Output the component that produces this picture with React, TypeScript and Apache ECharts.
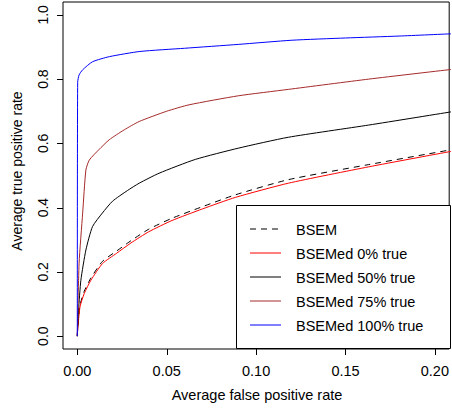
import React, { useEffect, useRef } from "react";
import * as echarts from "echarts";

// x (average false positive rate) and y (average true positive rate) per curve
const bsemX = [0, 0.0002, 0.0015, 0.0039, 0.0076, 0.0141, 0.022, 0.03, 0.04, 0.053, 0.07, 0.0885, 0.118, 0.163, 0.209];
const bsemY = [0, 0.022, 0.096, 0.14, 0.181, 0.233, 0.265, 0.297, 0.333, 0.367, 0.403, 0.44, 0.487, 0.534, 0.58];

const med0X = [0, 0.0002, 0.0015, 0.0039, 0.0076, 0.0141, 0.022, 0.03, 0.04, 0.053, 0.07, 0.0885, 0.118, 0.163, 0.209];
const med0Y = [0, 0.019, 0.091, 0.133, 0.174, 0.226, 0.258, 0.29, 0.325, 0.36, 0.396, 0.432, 0.476, 0.527, 0.575];

const med50X = [0, 0.0007, 0.002, 0.0048, 0.0085, 0.014, 0.0197, 0.028, 0.0346, 0.0457, 0.066, 0.09, 0.118, 0.163, 0.209];
const med50Y = [0, 0.081, 0.174, 0.268, 0.341, 0.383, 0.42, 0.453, 0.476, 0.507, 0.55, 0.585, 0.619, 0.657, 0.698];

const med75X = [0, 0.001, 0.003, 0.0048, 0.0067, 0.012, 0.0178, 0.0262, 0.0346, 0.05, 0.0625, 0.09, 0.118, 0.163, 0.209];
const med75Y = [0, 0.227, 0.383, 0.517, 0.548, 0.58, 0.611, 0.642, 0.668, 0.7, 0.72, 0.748, 0.768, 0.8, 0.83];

const med100X = [0, 0.0002, 0.001, 0.003, 0.0085, 0.018, 0.035, 0.06, 0.09, 0.12, 0.15, 0.18, 0.209];
const med100Y = [0, 0.79, 0.813, 0.829, 0.854, 0.87, 0.886, 0.896, 0.908, 0.921, 0.928, 0.934, 0.941];

const seriesNames = ["BSEM", "BSEMed 0% true", "BSEMed 50% true", "BSEMed 75% true", "BSEMed 100% true"];
const seriesColors = ["#000000", "#FF0000", "#000000", "#A52A2A", "#0000FF"];
const xTicks = [0, 0.05, 0.1, 0.15, 0.2];
const yTicks = [0, 0.2, 0.4, 0.6, 0.8, 1.0];

const X_MIN = -0.008;
const X_MAX = 0.208;
const Y_MIN = -0.04;
const Y_MAX = 1.04;

const FONT = "'Liberation Sans', Arial, Helvetica, sans-serif";
const DASH = [6, 5];

function pairs(xs: number[], ys: number[]) {
  return xs.map((x, i) => [x, ys[i]]);
}

export default function App() {
  const ref = useRef<HTMLDivElement>(null);
  useEffect(() => {
    if (!ref.current) return;
    const chart = echarts.init(ref.current, null, { renderer: "svg" });
    const mk = (i: number, data: number[][]) => ({
      name: seriesNames[i],
      type: "line",
      data,
      symbol: "none",
      showSymbol: false,
      smooth: 0.2,
      clip: true,
      lineStyle: { color: seriesColors[i], width: 1, type: i === 0 ? DASH : "solid" },
      itemStyle: { color: seriesColors[i] },
      emphasis: { disabled: true },
    });

    const legendRows = [229, 253, 277, 301, 325];
    const legendEls: any[] = [];
    seriesNames.forEach((name, i) => {
      legendEls.push({
        type: "line",
        z: 20,
        shape: { x1: 250, y1: legendRows[i], x2: 281, y2: legendRows[i] },
        style: { stroke: seriesColors[i], lineWidth: 1, lineDash: i === 0 ? DASH : null },
      });
      legendEls.push({
        type: "text",
        z: 20,
        x: 296,
        y: legendRows[i] + 1,
        style: {
          text: name,
          fontSize: 14.5,
          fontFamily: FONT,
          fill: "#000",
          align: "left",
          verticalAlign: "middle",
        },
      });
    });

    chart.setOption({
      animation: false,
      grid: {
        left: 63,
        top: 2,
        right: 1,
        bottom: 61,
        show: true,
        borderColor: "#000",
        borderWidth: 1,
        backgroundColor: "transparent",
      },
      xAxis: {
        type: "value",
        min: X_MIN,
        max: X_MAX,
        axisLine: { show: false, onZero: false },
        splitLine: { show: false },
        axisTick: { show: false },
        axisLabel: {
          customValues: xTicks,
          formatter: (v: number) => v.toFixed(2),
          margin: 14,
          fontSize: 14.5,
          fontFamily: FONT,
          color: "#000",
        },
      },
      yAxis: {
        type: "value",
        min: Y_MIN,
        max: Y_MAX,
        axisLine: { show: false, onZero: false },
        splitLine: { show: false },
        axisTick: { show: false },
        axisLabel: {
          customValues: yTicks,
          formatter: (v: number) => v.toFixed(1),
          rotate: 90,
          margin: 13,
          fontSize: 14,
          fontFamily: FONT,
          color: "#000",
        },
      },
      graphic: [
        {
          type: "rect",
          z: 15,
          shape: { x: 236.5, y: 205.5, width: 214, height: 143 },
          style: { fill: "#fff", stroke: "#000", lineWidth: 1 },
        },
        ...legendEls,
        {
          type: "text",
          x: 257,
          y: 395,
          style: {
            text: "Average false positive rate",
            fontSize: 14.5,
            fontFamily: FONT,
            fill: "#000",
            align: "center",
            verticalAlign: "middle",
          },
        },
        {
          type: "text",
          x: 17,
          y: 171,
          rotation: Math.PI / 2,
          style: {
            text: "Average true positive rate",
            fontSize: 14,
            fontFamily: FONT,
            fill: "#000",
            align: "center",
            verticalAlign: "middle",
          },
        },
      ],
      series: [
        mk(0, pairs(bsemX, bsemY)),
        mk(1, pairs(med0X, med0Y)),
        mk(2, pairs(med50X, med50Y)),
        mk(3, pairs(med75X, med75Y)),
        mk(4, pairs(med100X, med100Y)),
        {
          // x-axis tick marks, positioned through the axis scale
          type: "custom",
          clip: false,
          silent: true,
          z: 20,
          data: xTicks.map((v) => [v, Y_MIN]),
          renderItem: (params: any, api: any) => {
            const p = api.coord([api.value(0), api.value(1)]);
            const x = Math.round(p[0]) + 0.5;
            const y = Math.round(p[1]);
            return {
              type: "line",
              shape: { x1: x, y1: y, x2: x, y2: y + 6 },
              style: { stroke: "#000", lineWidth: 1 },
            };
          },
        },
        {
          // y-axis tick marks, positioned through the axis scale
          type: "custom",
          clip: false,
          silent: true,
          z: 20,
          data: yTicks.map((v) => [X_MIN, v]),
          renderItem: (params: any, api: any) => {
            const p = api.coord([api.value(0), api.value(1)]);
            const x = Math.round(p[0]);
            const y = Math.round(p[1]) + 0.5;
            return {
              type: "line",
              shape: { x1: x - 6, y1: y, x2: x, y2: y },
              style: { stroke: "#000", lineWidth: 1 },
            };
          },
        },
      ],
    });
    return () => chart.dispose();
  }, []);
  return (
    <div
      ref={ref}
      style={{ position: "absolute", left: 0, top: 0, width: 452, height: 410, background: "#fff" }}
    />
  );
}
